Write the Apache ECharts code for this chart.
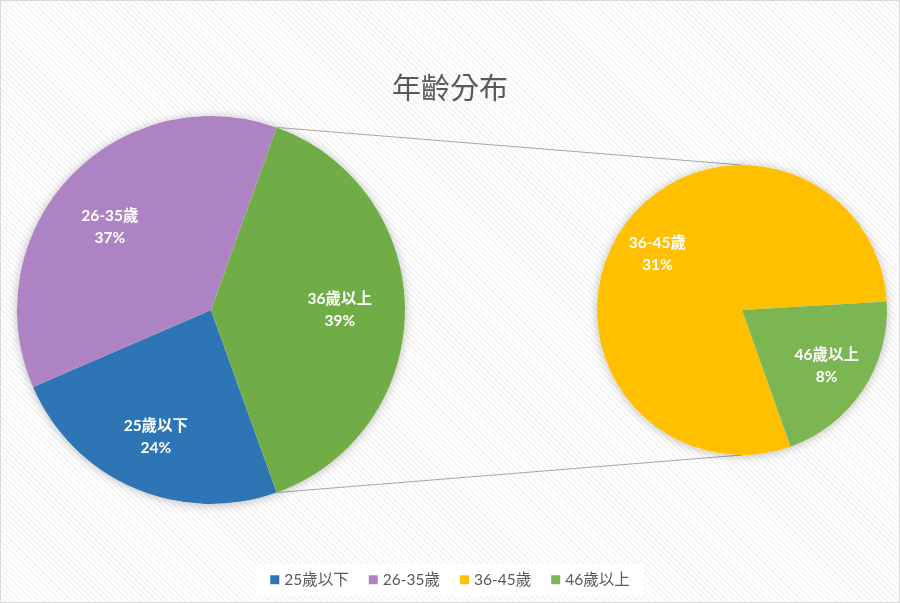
<!DOCTYPE html>
<html>
<head>
<meta charset="utf-8">
<script src="https://cdn.jsdelivr.net/npm/echarts@6/dist/echarts.min.js"></script>
<style>
  html, body { margin: 0; padding: 0; }
  #main {
    width: 900px; height: 603px; box-sizing: border-box;
    border: 1px solid #d9d9d9;
    background: repeating-linear-gradient(45deg, #ffffff 0px, #ffffff 2px, #f5f5f5 2px, #f5f5f5 4px);
  }
</style>
</head>
<body>
<div id="main"></div>
<script>
// 主饼：年龄段占比 (%)
const mainNames = ['25歲以下', '26-35歲', '36歲以上'];
const mainValues = [24, 37, 39];
const mainColors = ['#2e75b6', '#ae83c4', '#70ad47'];

// 子饼：拆分 36歲以上
const subNames = ['36-45歲', '46歲以上'];
const subValues = [31, 8];
const subColors = ['#ffc000', '#7cb652'];

const legendNames = ['25歲以下', '26-35歲', '36-45歲', '46歲以上'];

// 版面
const c1 = [210, 309], r1 = 194;
const c2 = [741, 309], r2 = 145;

const total = mainValues.reduce((a, b) => a + b, 0);
const subTotal = subValues.reduce((a, b) => a + b, 0);
// 让 "36歲以上" 扇区左右对称于水平轴
const otherHalf = mainValues[2] / total * 180;
const mainStart = -otherHalf;
// 子饼起始角（46歲以上 从略高于水平处开始）
const subGreenStart = 3.4;
const subStart = subGreenStart - subValues[1] / subTotal * 360;

// 标签微调（Excel 的标签不完全在半径方向上）
const mainLabelOffsets = [[0, 0], [0, 12], [-10, 0]];

const font = 'Lato, "Noto Sans CJK TC", sans-serif';

const myChart = echarts.init(document.getElementById('main'));

const rad = a => a * Math.PI / 180;
const p1Top = [c1[0] + r1 * Math.cos(rad(otherHalf)), c1[1] - r1 * Math.sin(rad(otherHalf))];
const p1Bot = [c1[0] + r1 * Math.cos(rad(otherHalf)), c1[1] + r1 * Math.sin(rad(otherHalf))];
const p2Top = [c2[0], c2[1] - r2];
const p2Bot = [c2[0], c2[1] + r2];

const labelStyle = {
    show: true,
    position: 'inside',
    color: '#fff',
    fontSize: 15.5,
    fontWeight: 'bold',
    fontFamily: font,
    lineHeight: 22
};

const shadowPie = (center, r) => ({
    type: 'pie', silent: true, z: 1,
    center: center, radius: [0, r],
    label: { show: false }, labelLine: { show: false },
    itemStyle: { color: '#fff', shadowBlur: 10, shadowColor: 'rgba(0,0,0,0.25)', shadowOffsetY: 1 },
    data: [{ value: 1, name: 'shadow' }]
});

let option = {
    animation: false,
    title: {
        text: '年齡分布',
        left: 'center',
        top: 67,
        textStyle: { fontSize: 29, fontWeight: 'normal', color: '#595959', fontFamily: '"Noto Sans CJK TC", serif' }
    },
    legend: {
        data: legendNames,
        left: 'center',
        top: 563,
        icon: 'rect',
        itemWidth: 9,
        itemHeight: 9,
        itemGap: 20,
        backgroundColor: '#fff',
        padding: [8, 14],
        textStyle: { fontSize: 15.5, color: '#595959', fontFamily: font }
    },
    graphic: [
        { type: 'line', z: 0, shape: { x1: p1Top[0], y1: p1Top[1], x2: p2Top[0], y2: p2Top[1] }, style: { stroke: '#a6a6a6', lineWidth: 1 } },
        { type: 'line', z: 0, shape: { x1: p1Bot[0], y1: p1Bot[1], x2: p2Bot[0], y2: p2Bot[1] }, style: { stroke: '#a6a6a6', lineWidth: 1 } }
    ],
    series: [
        shadowPie(c1, r1),
        shadowPie(c2, r2),
        {
            type: 'pie', z: 2,
            center: c1, radius: [0, r1],
            startAngle: mainStart, clockwise: true,
            label: { show: false }, labelLine: { show: false },
            itemStyle: { borderWidth: 0 },
            data: mainNames.map((n, i) => ({ name: n, value: mainValues[i], itemStyle: { color: mainColors[i] } }))
        },
        {
            type: 'pie', z: 2,
            center: c2, radius: [0, r2],
            startAngle: subStart, clockwise: true,
            label: { show: false }, labelLine: { show: false },
            itemStyle: { borderWidth: 0 },
            data: subNames.map((n, i) => ({ name: n, value: subValues[i], itemStyle: { color: subColors[i] } }))
        },
        // 标签层（透明环，控制标签半径）
        {
            type: 'pie', z: 3, silent: true,
            center: c1, radius: [r1 * 0.4, r1],
            startAngle: mainStart, clockwise: true,
            label: Object.assign({}, labelStyle, { formatter: p => mainNames[p.dataIndex] + '\n' + mainValues[p.dataIndex] + '%' }),
            labelLine: { show: false },
            itemStyle: { color: 'rgba(0,0,0,0)' },
            data: mainNames.map((n, i) => ({ name: n + '_lbl', value: mainValues[i], label: { offset: mainLabelOffsets[i] } }))
        },
        {
            type: 'pie', z: 3, silent: true,
            center: c2, radius: [r2 * 0.36, r2],
            startAngle: subStart, clockwise: true,
            label: Object.assign({}, labelStyle, { formatter: p => subNames[p.dataIndex] + '\n' + subValues[p.dataIndex] + '%' }),
            labelLine: { show: false },
            itemStyle: { color: 'rgba(0,0,0,0)' },
            data: subNames.map((n, i) => ({ name: n + '_lbl', value: subValues[i] }))
        }
    ]
};
myChart.setOption(option);
</script>
</body>
</html>
